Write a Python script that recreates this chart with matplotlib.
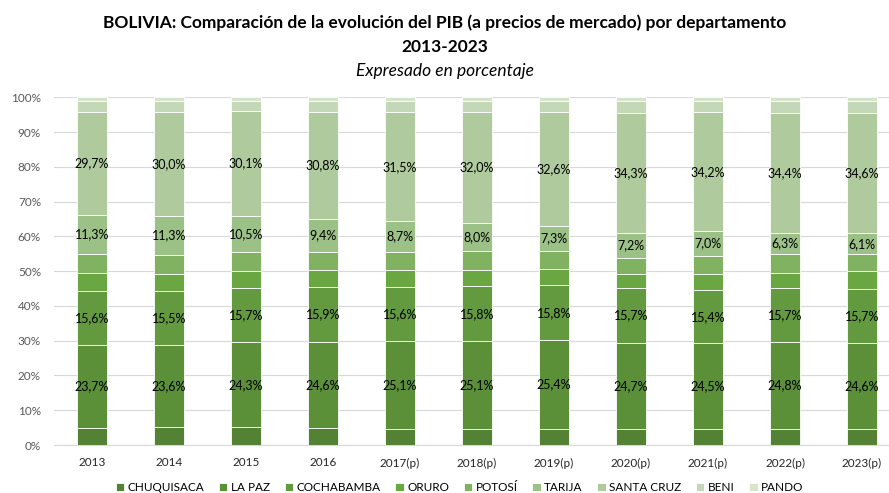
import matplotlib.pyplot as plt
import numpy as np

# datos
anios = ['2013', '2014', '2015', '2016', '2017(p)', '2018(p)', '2019(p)',
         '2020(p)', '2021(p)', '2022(p)', '2023(p)']

chuquisaca = [5.0, 5.1, 5.2, 5.0, 4.7, 4.7, 4.7, 4.7, 4.7, 4.7, 4.7]
la_paz = [23.7, 23.6, 24.3, 24.6, 25.1, 25.1, 25.4, 24.7, 24.5, 24.8, 24.6]
cochabamba = [15.6, 15.5, 15.7, 15.9, 15.6, 15.8, 15.8, 15.7, 15.4, 15.7, 15.7]
oruro = [5.1, 4.9, 4.7, 4.7, 4.8, 4.7, 4.6, 4.0, 4.5, 4.4, 4.9]
potosi = [5.5, 5.5, 5.5, 5.4, 5.4, 5.5, 5.3, 4.8, 5.4, 5.2, 4.9]
tarija = [11.3, 11.3, 10.5, 9.4, 8.7, 8.0, 7.3, 7.2, 7.0, 6.3, 6.1]
santa_cruz = [29.7, 30.0, 30.1, 30.8, 31.5, 32.0, 32.6, 34.3, 34.2, 34.4, 34.6]
beni = [3.1, 3.1, 3.0, 3.2, 3.2, 3.2, 3.2, 3.5, 3.2, 3.4, 3.4]
pando = [1.0, 1.0, 1.0, 1.0, 1.0, 1.0, 1.1, 1.1, 1.1, 1.1, 1.1]

series = [
    ('CHUQUISACA', chuquisaca, '#548235', False),
    ('LA PAZ', la_paz, '#5b8f38', True),
    ('COCHABAMBA', cochabamba, '#63993f', True),
    ('ORURO', oruro, '#6aa642', False),
    ('POTOSÍ', potosi, '#80b261', False),
    ('TARIJA', tarija, '#9bc186', True),
    ('SANTA CRUZ', santa_cruz, '#afcb9e', True),
    ('BENI', beni, '#c4d8b7', False),
    ('PANDO', pando, '#d6e4cc', False),
]

plt.rcParams['font.family'] = ['Lato', 'DejaVu Sans']

fig = plt.figure(figsize=(8.89, 4.93), dpi=100)
ax = fig.add_axes([53.5 / 889, 1 - 445 / 493, (889 - 53.5) / 889, (445 - 97.3) / 493])

x = np.arange(len(anios))
base = np.zeros(len(anios))
for nombre, valores, color, etiqueta in series:
    v = np.array(valores) / 100
    ax.bar(x, v, 0.39, bottom=base, color=color, edgecolor='white',
           linewidth=0.6, label=nombre, zorder=3)
    if etiqueta:
        for xi, b, h, val in zip(x, base, v, valores):
            ax.text(xi, b + h / 2, f'{val:.1f}%'.replace('.', ','), ha='center',
                    va='center', fontsize=9, color='black', zorder=4)
    base += v

ax.set_xlim(-0.5, 10.35)
ax.set_ylim(0, 1.0)
ax.set_yticks(np.arange(0, 1.01, 0.1))
ax.set_yticklabels([f'{int(round(t * 100))}%' for t in np.arange(0, 1.01, 0.1)],
                   color='#595959', fontsize=8.5)
ax.set_xticks(x)
ax.set_xticklabels(anios, fontsize=8.5, color='#262626')
ax.tick_params(length=0, pad=9)
ax.grid(axis='y', color='#d9d9d9', linewidth=0.8, zorder=0)
for s in ['top', 'right', 'left']:
    ax.spines[s].set_visible(False)
ax.spines['bottom'].set_color('#d9d9d9')

fig.text(0.5, 0.953, 'BOLIVIA: Comparación de la evolución del PIB (a precios de mercado) por departamento',
         ha='center', va='center', fontsize=12.5, fontweight='bold')
fig.text(0.5, 0.905, '2013-2023', ha='center', va='center', fontsize=12.5, fontweight='bold')
fig.text(0.5, 0.855, 'Expresado en porcentaje', ha='center', va='center', fontsize=12.5,
         style='italic')

fig.legend(loc='lower center', bbox_to_anchor=(0.517, -0.022), ncol=9, frameon=False,
           fontsize=8.5, handlelength=0.7, handleheight=0.7, handletextpad=0.3,
           columnspacing=1.25)

fig.savefig('out.png', dpi=100)
